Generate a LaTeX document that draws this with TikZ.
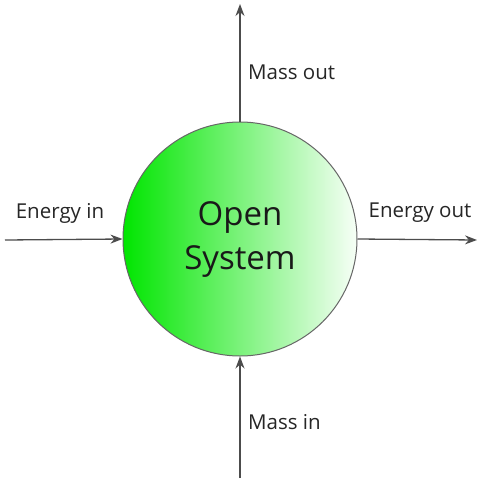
\documentclass[tikz,border=0pt]{standalone}
\usepackage{fontspec}
\setmainfont{Open Sans}
\usetikzlibrary{arrows.meta}

\providecommand{\colorSystem}{green!90!black}
\providecommand{\flowthickness}{1.3pt}

\begin{document}
\begin{tikzpicture}[
    x=1pt, y=-1pt,
    % Node styles
    system_node/.style={
        circle,
        draw=black!60,
        line width=1pt,
        minimum size=234pt,
        inner sep=0pt,
        left color=\colorSystem,
        right color=green!3,
        font=\fontsize{33}{44}\selectfont,
        text=black!90,
        align=center
    },
    % Edge styles
    flow_edge/.style={
        line width=\flowthickness,
        draw=black!70,
        -{Stealth[length=12pt,width=9pt]}
    },
    flowlabel/.style={
        font=\fontsize{20.5}{24}\selectfont,
        text=black!85,
        inner sep=0pt
    }
]

    % ==================== FRAME ====================
    \useasboundingbox (0,0) rectangle (480,480);

    % ==================== SYSTEM ====================
    \node[system_node] (sys) at (240,239) {Open\\System};

    % Free ends of the flows
    \coordinate (top_end) at (240,4);
    \coordinate (left_end) at (5,240);
    \coordinate (right_end) at (477,240);
    \coordinate (bottom_end) at (240,478);

    % ==================== FLOWS ====================
    \draw[flow_edge] (sys.north) -- (top_end);
    \draw[flow_edge] (left_end) -- (sys.west);
    \draw[flow_edge] (sys.east) -- (right_end);
    \draw[flow_edge] (bottom_end) -- (sys.south);

    % Flow labels
    \node[flowlabel, anchor=west] (mass_out) at (248,72) {Mass out};
    \node[flowlabel] (energy_in) at (60,213) {Energy in};
    \node[flowlabel] (energy_out) at (420,213) {Energy out};
    \node[flowlabel, anchor=west] (mass_in) at (248,422) {Mass in};

\end{tikzpicture}
\end{document}
